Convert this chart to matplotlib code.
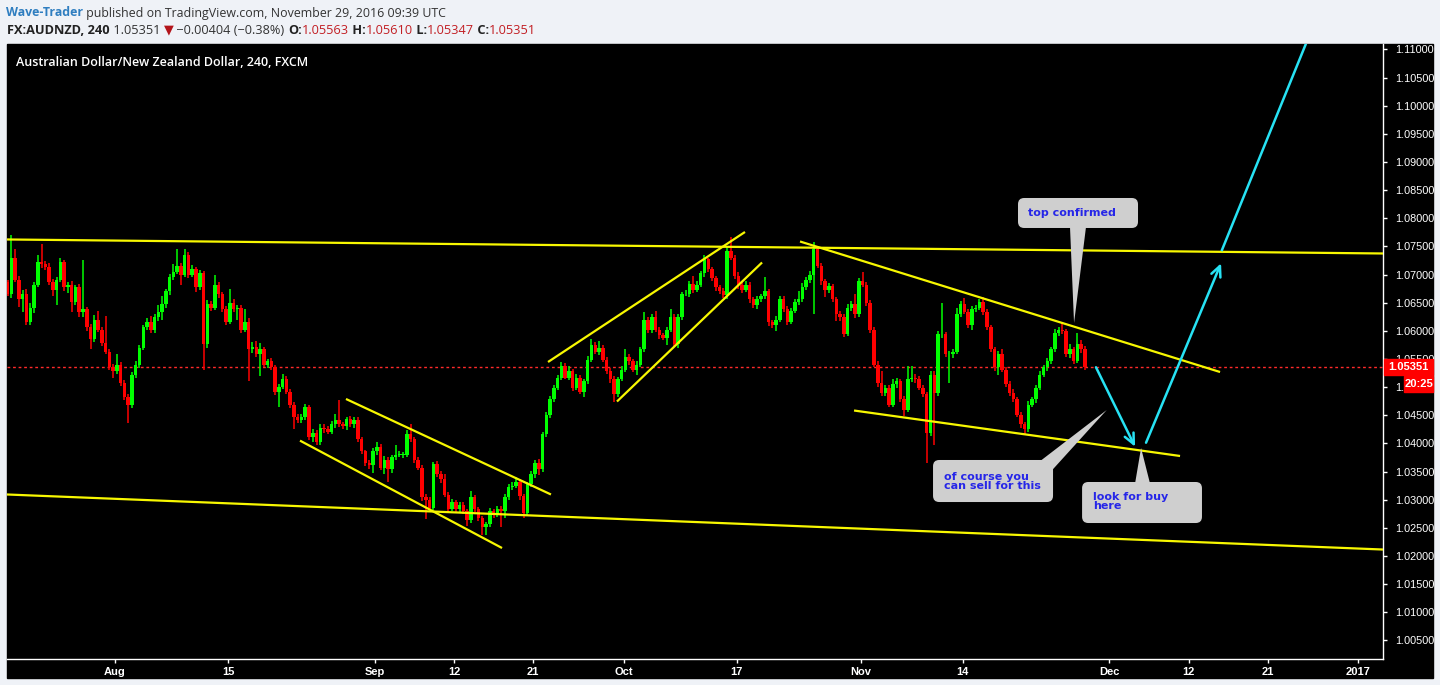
import numpy as np
import matplotlib.pyplot as plt
from matplotlib.patches import FancyBboxPatch, Polygon, Rectangle
from matplotlib.transforms import blended_transform_factory

# AUDNZD 4h-ish candles (pips above 1.0000) ---------------------------------
first_open_pips = 686
close_pips = [
    665, 730, 691, 656, 665, 616, 641, 682, 723, 718,
    713, 686, 673, 691, 723, 677, 682, 652, 677, 634,
    638, 606, 585, 620, 602, 579, 563, 535, 528, 540,
    508, 482, 469, 522, 540, 570, 606, 616, 602, 624,
    634, 647, 670, 695, 705, 716, 700, 734, 700, 709,
    677, 702, 576, 647, 641, 682, 665, 638, 616, 650,
    638, 641, 602, 616, 567, 572, 558, 567, 540, 546,
    535, 492, 501, 514, 492, 469, 446, 442, 446, 464,
    412, 419, 402, 428, 425, 421, 434, 442, 434, 430,
    444, 434, 442, 407, 386, 366, 361, 386, 394, 357,
    371, 354, 375, 380, 380, 380, 416, 407, 371, 357,
    304, 300, 286, 363, 345, 336, 309, 283, 295, 283,
    291, 279, 263, 304, 283, 268, 251, 256, 279, 274,
    283, 279, 304, 322, 325, 331, 306, 277, 327, 345,
    366, 354, 416, 451, 478, 499, 517, 537, 517, 528,
    499, 517, 492, 510, 549, 574, 563, 570, 549, 528,
    514, 487, 514, 531, 554, 546, 531, 540, 567, 620,
    602, 624, 602, 592, 588, 602, 625, 576, 624, 665,
    665, 684, 673, 682, 702, 727, 709, 693, 677, 670,
    663, 741, 730, 698, 682, 673, 682, 656, 645, 656,
    661, 670, 615, 610, 620, 656, 638, 616, 636, 652,
    656, 677, 691, 700, 745, 716, 688, 673, 679, 656,
    629, 624, 594, 641, 647, 629, 688, 682, 650, 602,
    540, 507, 490, 499, 469, 505, 510, 478, 460, 514,
    517, 514, 499, 487, 419, 522, 490, 594, 594, 558,
    558, 563, 629, 647, 634, 611, 638, 641, 652, 634,
    606, 567, 535, 558, 531, 505, 490, 478, 451, 434,
    425, 469, 478, 499, 522, 535, 546, 567, 597, 602,
    599, 558, 567, 546, 576, 567, 535,
]
up_wick = [
    5, 41, 15, 6, 8, 10, 8, 5, 12, 32,
    6, 7, 6, 5, 6, 3, 5, 6, 4, 7,
    87, 5, 6, 8, 16, 5, 48, 4, 6, 18,
    5, 4, 6, 5, 6, 4, 5, 7, 10, 6,
    12, 14, 5, 6, 13, 29, 4, 11, 6, 8,
    5, 6, 4, 7, 6, 18, 5, 4, 6, 25,
    6, 5, 4, 22, 6, 8, 10, 12, 5, 4,
    6, 4, 5, 10, 6, 4, 5, 6, 7, 6,
    5, 6, 4, 7, 6, 5, 6, 11, 35, 4,
    3, 5, 5, 4, 5, 3, 4, 6, 8, 5,
    6, 4, 5, 18, 6, 5, 7, 18, 4, 5,
    4, 6, 5, 4, 5, 6, 10, 4, 6, 5,
    5, 4, 5, 12, 5, 4, 3, 5, 6, 5,
    6, 5, 6, 5, 6, 10, 5, 4, 5, 6,
    5, 6, 5, 4, 6, 5, 4, 8, 5, 9,
    5, 6, 5, 4, 6, 11, 6, 12, 4, 5,
    6, 5, 4, 6, 13, 5, 4, 6, 5, 14,
    4, 6, 11, 4, 5, 4, 13, 5, 6, 4,
    8, 5, 14, 6, 5, 7, 3, 4, 5, 4,
    6, 9, 25, 5, 6, 5, 7, 5, 4, 6,
    5, 26, 4, 5, 6, 6, 5, 6, 5, 4,
    14, 8, 5, 6, 12, 6, 5, 4, 6, 5,
    4, 6, 5, 6, 6, 18, 5, 17, 4, 5,
    4, 6, 21, 5, 4, 9, 6, 5, 6, 23,
    20, 6, 5, 4, 5, 6, 7, 5, 56, 4,
    6, 5, 12, 6, 12, 5, 6, 5, 4, 8,
    5, 4, 5, 6, 10, 4, 5, 6, 4, 5,
    4, 6, 5, 4, 6, 5, 6, 5, 6, 5,
    13, 5, 9, 4, 21, 8, 6,
]
dn_wick = [
    4, 6, 5, 13, 22, 5, 6, 10, 5, 6,
    5, 4, 12, 28, 5, 6, 9, 18, 6, 10,
    9, 6, 18, 5, 4, 6, 5, 5, 11, 5,
    6, 5, 32, 7, 5, 6, 4, 5, 6, 5,
    6, 14, 6, 6, 5, 4, 18, 5, 6, 5,
    8, 5, 45, 6, 5, 4, 6, 5, 6, 4,
    5, 18, 6, 4, 57, 6, 5, 39, 5, 6,
    5, 6, 27, 5, 4, 6, 21, 6, 5, 4,
    6, 9, 5, 4, 6, 5, 4, 6, 5, 4,
    6, 5, 6, 5, 4, 6, 7, 13, 6, 5,
    12, 22, 6, 5, 4, 6, 5, 4, 6, 5,
    6, 35, 6, 5, 4, 6, 5, 6, 4, 5,
    6, 5, 10, 4, 5, 6, 13, 13, 5, 6,
    5, 28, 12, 4, 5, 4, 6, 9, 5, 4,
    6, 11, 5, 4, 6, 5, 4, 5, 2, 5,
    6, 5, 4, 10, 5, 4, 5, 6, 5, 4,
    6, 13, 5, 4, 5, 6, 5, 9, 5, 4,
    6, 5, 4, 6, 5, 14, 4, 5, 6, 5,
    4, 5, 6, 4, 5, 6, 4, 5, 6, 5,
    4, 6, 5, 6, 7, 5, 4, 6, 5, 7,
    4, 5, 6, 5, 10, 4, 5, 6, 4, 5,
    6, 5, 4, 6, 70, 5, 6, 13, 6, 5,
    12, 6, 5, 4, 5, 6, 5, 4, 6, 5,
    4, 6, 5, 6, 5, 4, 6, 5, 12, 4,
    5, 6, 5, 4, 53, 6, 92, 5, 6, 5,
    50, 6, 5, 4, 5, 6, 10, 5, 4, 6,
    5, 4, 6, 13, 5, 4, 6, 5, 4, 6,
    9, 5, 4, 6, 5, 4, 6, 5, 4, 6,
    5, 4, 6, 5, 4, 6, 5,
]
start_day = -9.5      # trading days relative to Aug 1
bars_per_day = 3
last_price = 1.05351

# x axis: trading-day index of each label
tick_days = [0, 10, 23, 30, 37, 45, 55, 66, 75, 88, 95, 102, 110]
tick_labels = ['Aug', '15', 'Sep', '12', '21', 'Oct', '17', 'Nov', '14',
               'Dec', '12', '21', '2017']
price_ticks = np.round(np.arange(1.005, 1.1101, 0.005), 3)

# trendlines (day, price) -> (day, price)
yellow_lines = [
    ((-9.56, 1.07623), (112.21, 1.07374)),
    ((-9.56, 1.03092), (112.21, 1.02114)),
    ((16.37, 1.04049), (34.25, 1.02141)),
    ((20.44, 1.04789), (38.58, 1.03092)),
    ((38.32, 1.05446), (55.75, 1.07756)),
    ((44.42, 1.04744), (57.26, 1.07214)),
    ((60.62, 1.07587), (97.79, 1.05268)),
    ((65.40, 1.04584), (94.25, 1.03776)),
]
cyan_arrows = [
    ((86.81, 1.05352), (90.27, 1.03941)),
    ((91.24, 1.04012), (97.88, 1.07200)),
]
cyan_line = ((97.96, 1.07436), (106.2, 1.1150))

# callouts: text, text anchor, box (d0, d1, p0, p1), pointer (base1, base2, tip)
callouts = [
    ('top confirmed', (80.8, 1.08088), (79.91, 90.53, 1.07827, 1.08360),
     [(84.51, 1.0785), (85.93, 1.0785), (84.87, 1.06139)]),
    ('of course you\ncan sell for this', (73.36, 1.03318), (72.39, 83.01, 1.02958, 1.03705),
     [(81.9, 1.0369), (83.0, 1.0354), (87.76, 1.04593)]),
    ('look for buy\nhere', (86.55, 1.02962), (85.58, 96.19, 1.02585, 1.03314),
     [(90.27, 1.0329), (91.59, 1.0329), (90.80, 1.03918)]),
]

# -------------------------------------------------------------------------
closes = 1 + np.array(close_pips) / 1e4
opens = np.concatenate([[1 + first_open_pips / 1e4], closes[:-1]])
highs = np.maximum(opens, closes) + np.array(up_wick) / 1e4
lows = np.minimum(opens, closes) - np.array(dn_wick) / 1e4
xs = start_day + np.arange(len(closes)) / bars_per_day
cols = np.where(closes >= opens, '#00ff00', '#ff0000')

W, H = 1440, 685
fig = plt.figure(figsize=(W / 100, H / 100), dpi=100, facecolor='#eff2f7')

# black pane incl. price/time scales
fig.add_artist(Rectangle((7 / W, (H - 678) / H), (1433 - 7) / W, (678 - 44) / H,
                         transform=fig.transFigure, color='black', zorder=-1))

ax = fig.add_axes([7 / W, (H - 659) / H, 1376 / W, 615 / H], facecolor='black')
xlim = (-9.558, 112.21)
ylim = (1.00169, 1.11096)
ax.set_xlim(*xlim)
ax.set_ylim(*ylim)

ax.vlines(xs, lows, highs, colors=cols, lw=1.1, zorder=3)
body_lo = np.minimum(opens, closes)
body_h = np.maximum(np.abs(closes - opens), 0.00003)
ax.bar(xs, body_h, width=0.31, bottom=body_lo, color=cols, lw=0, zorder=4)

ax.axhline(last_price, color='#ff2a2a', lw=1, ls=(0, (2, 2)), zorder=2)

for (d0, p0), (d1, p1) in yellow_lines:
    ax.plot([d0, d1], [p0, p1], color='#f7f700', lw=1.6, zorder=5,
            solid_capstyle='butt')

cyan = '#27e2f4'
for (d0, p0), (d1, p1) in cyan_arrows:
    ax.annotate('', xy=(d1, p1), xytext=(d0, p0), zorder=6,
                arrowprops=dict(arrowstyle='->,head_length=0.75,head_width=0.35',
                                color=cyan, lw=1.8, shrinkA=0, shrinkB=0))
ax.plot([cyan_line[0][0], cyan_line[1][0]], [cyan_line[0][1], cyan_line[1][1]],
        color=cyan, lw=1.8, zorder=6)

# callout boxes, rounded in pixel-isotropic way
aspect = ((ylim[1] - ylim[0]) / 615) / ((xlim[1] - xlim[0]) / 1376)
for txt, (tx, ty), (d0, d1, p0, p1), ptr in callouts:
    ax.add_patch(Polygon(ptr, closed=True, color='#cfcfcf', lw=0, zorder=7))
    ax.add_patch(FancyBboxPatch((d0, p0), d1 - d0, p1 - p0,
                                boxstyle='round,pad=0,rounding_size=0.55',
                                mutation_aspect=aspect, fc='#cfcfcf', ec='none',
                                zorder=7))
    ax.text(tx, ty, txt, color='#2626e8', fontsize=8, fontweight='bold',
            family='DejaVu Sans', va='center', ha='left', linespacing=0.92,
            zorder=8)

for side in ('left', 'top'):
    ax.spines[side].set_visible(False)
for side in ('right', 'bottom'):
    ax.spines[side].set_color('white')
    ax.spines[side].set_linewidth(1)

ax.set_xticks(tick_days)
ax.set_xticklabels(tick_labels)
ax.set_yticks(price_ticks)
ax.set_yticklabels([f'{v:.5f}' for v in price_ticks])
ax.yaxis.tick_right()
ax.tick_params(axis='y', colors='white', length=3, width=1, pad=5.5, labelsize=7.8)
ax.tick_params(axis='x', colors='white', length=3, width=1, pad=2.5, labelsize=8)
for lbl in ax.get_yticklabels():
    lbl.set_family('Liberation Sans')
for lbl in ax.get_xticklabels():
    lbl.set_family(['Liberation Sans Narrow', 'Liberation Sans'])
    lbl.set_fontweight('bold')
    lbl.set_fontstretch('condensed')

# last price + countdown tags on the price scale
bt = blended_transform_factory(ax.transAxes, ax.transData)
px_p = (ylim[1] - ylim[0]) / 615
ax.add_patch(Rectangle((1.0008, last_price - 8 * px_p), 49 / 1376, 16 * px_p,
                       transform=bt, color='#ff0000', clip_on=False, zorder=10))
ax.text(1.0008 + 24.5 / 1376, last_price, f'{last_price:.5f}', transform=bt,
        color='white', fontsize=8, fontweight='bold', family='Liberation Sans',
        ha='center', va='center', clip_on=False, zorder=11)
ax.add_patch(Rectangle((1.0008 + 20 / 1376, last_price - 25 * px_p), 29 / 1376,
                       16 * px_p, transform=bt, color='#ff0000', clip_on=False,
                       zorder=10))
ax.text(1.0008 + 34.5 / 1376, last_price - 17 * px_p, '20:25', transform=bt,
        color='white', fontsize=8, fontweight='bold', family='Liberation Sans',
        ha='center', va='center', clip_on=False, zorder=11)

# header + pane title ----------------------------------------------------
axh = fig.add_axes([0, 0, 1, 1], zorder=5)
axh.set_axis_off()
fam = ['Open Sans', 'DejaVu Sans']


def chain(x0, y0, parts, size):
    prev = None
    for txt, col, wt in parts:
        kw = dict(color=col, fontsize=size, fontweight=wt, family=fam)
        if prev is None:
            prev = axh.text(x0, y0, txt, transform=axh.transAxes,
                            va='center', ha='left', **kw)
        else:
            prev = axh.annotate(txt, xy=(1, 0), xycoords=prev,
                                va='bottom', ha='left', **kw)


dark = '#333333'
red = '#c21f24'
chain(6 / W, 1 - 13 / H, [
    ('Wave-Trader', '#2f7ec0', 'bold'),
    (' published on TradingView.com, November 29, 2016 09:39 UTC', dark, 'normal'),
], 8.9)
chain(7 / W, 1 - 30 / H, [
    ('FX:AUDNZD, 240', '#222222', 'bold'),
    (' 1.05351 ', dark, 'normal'),
    ('▼', '#b3141a', 'normal'),
    (' \u22120.00404 (\u22120.38%) ', dark, 'normal'),
    ('O:', '#222222', 'bold'), ('1.05563', red, 'normal'),
    (' H:', '#222222', 'bold'), ('1.05610', red, 'normal'),
    (' L:', '#222222', 'bold'), ('1.05347', red, 'normal'),
    (' C:', '#222222', 'bold'), ('1.05351', red, 'normal'),
], 9.2)
axh.text(16 / W, 1 - 62 / H, 'Australian Dollar/New Zealand Dollar, 240, FXCM',
         transform=axh.transAxes, color='white', fontsize=9, fontweight='semibold',
         family=fam, va='center', ha='left')

fig.savefig('out.png', dpi=100, facecolor=fig.get_facecolor())
